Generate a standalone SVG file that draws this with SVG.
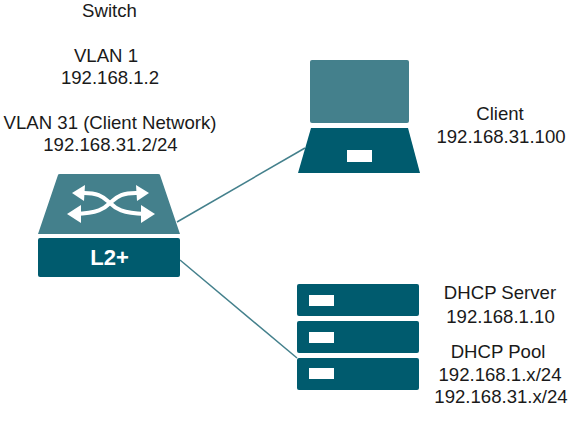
<svg xmlns="http://www.w3.org/2000/svg" width="578" height="439" viewBox="0 0 578 439">
<style>
.t{font-family:"Liberation Sans",Arial,sans-serif;font-size:18.6px;fill:#1a1a1a;text-anchor:middle}
.dark{fill:#005b6e}
.light{fill:#44808c}
.w{fill:#fff}
.c{fill:none;stroke:#44808c;stroke-width:1.5}
.a{fill:none;stroke:#fff;stroke-width:4}
.h{fill:#fff}
</style>
<rect width="578" height="439" fill="#fff"/>
<g id="connectors">
<path class="c" d="M177 222L305 148"/>
<path class="c" d="M180 260L297 358"/>
</g>
<g id="switch">
<path class="light" d="M58 175Q58 174 60 174H158Q160 174 160 175L180 234H38Z"/>
<rect class="dark" x="38" y="238" width="142" height="39" rx="2"/>
<path class="a" d="M80 193C100 192 104 198 110 203C116 209 122 213 145 214"/>
<path class="a" d="M75 214C98 213 104 209 110 203C116 198 120 192 140 193"/>
<path class="h" d="M72 193L85 185L84 201Z"/>
<path class="h" d="M67 214L81 205L81 223Z"/>
<path class="h" d="M155 214L141 205L141 223Z"/>
<path class="h" d="M149 193L136 185L137 201Z"/>
<text x="109.500" y="265" style="font-family:'Liberation Sans',Arial,sans-serif;font-size:22px;font-weight:700;fill:#fff;text-anchor:middle">L2+</text>
</g>
<g id="laptop">
<rect class="light" x="310" y="60" width="99" height="63" rx="2"/>
<path class="dark" d="M311 128H408L420 173H298Z"/>
<rect class="w" x="347" y="150" width="25" height="12"/>
</g>
<g id="server">
<rect class="dark" x="297" y="284" width="122" height="32" rx="2"/>
<rect class="w" x="309" y="295" width="25" height="11"/>
<rect class="dark" x="297" y="321" width="122" height="32" rx="2"/>
<rect class="w" x="309" y="332" width="25" height="11"/>
<rect class="dark" x="297" y="358" width="122" height="32" rx="2"/>
<rect class="w" x="309" y="368" width="25" height="11"/>
</g>
<g id="switch-label">
<text class="t" x="109.500" y="17">Switch</text>
<text class="t" x="106" y="62">VLAN 1</text>
<text class="t" x="110" y="84">192.168.1.2</text>
<text class="t" x="110" y="129">VLAN 31 (Client Network)</text>
<text class="t" x="110.500" y="151">192.168.31.2/24</text>
</g>
<g id="client-label">
<text class="t" x="500" y="120">Client</text>
<text class="t" x="501" y="143">192.168.31.100</text>
</g>
<g id="server-label">
<text class="t" x="500" y="299">DHCP Server</text>
<text class="t" x="500.500" y="323">192.168.1.10</text>
<text class="t" x="498" y="358">DHCP Pool</text>
<text class="t" x="500" y="381">192.168.1.x/24</text>
<text class="t" x="501" y="403">192.168.31.x/24</text>
</g>
</svg>
